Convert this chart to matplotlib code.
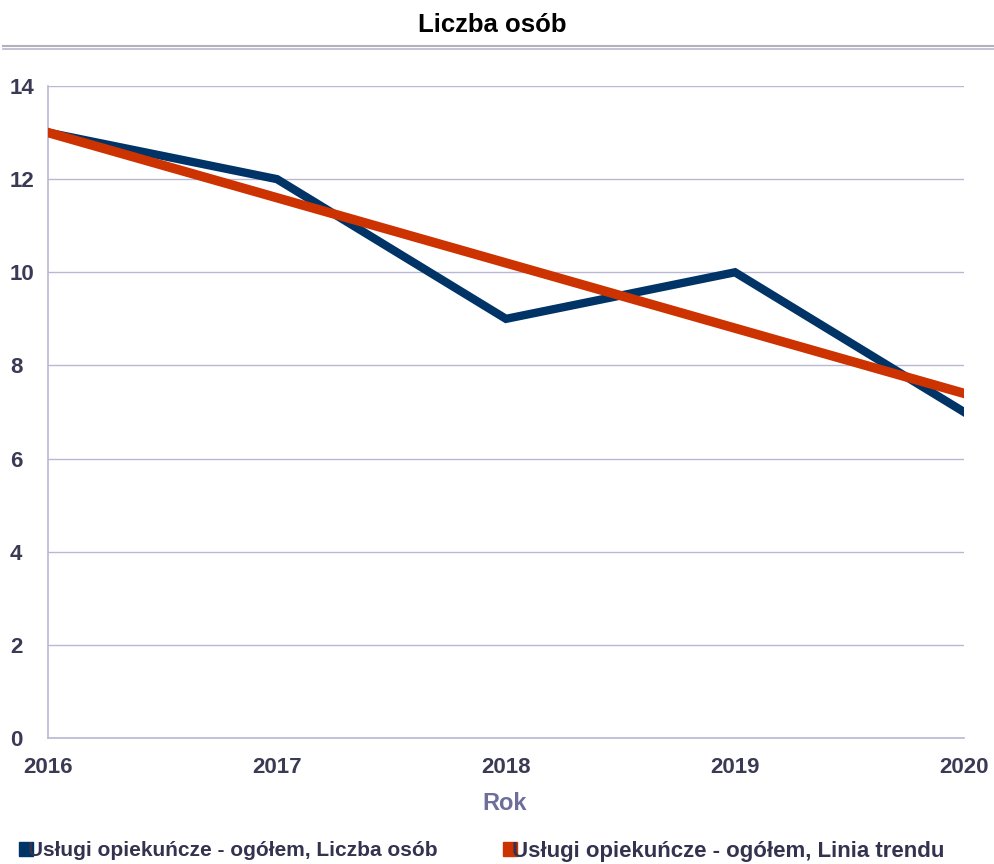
import matplotlib
matplotlib.use("Agg")
import matplotlib.pyplot as plt
from matplotlib.lines import Line2D
import matplotlib.transforms as mtransforms

years = ["2016", "2017", "2018", "2019", "2020"]
liczba_osob = [13, 12, 9, 10, 7]
linia_trendu = [13.0, 11.6, 10.2, 8.8, 7.4]
y_ticks = [0, 2, 4, 6, 8, 10, 12, 14]
series_labels = ["Usługi opiekuńcze - ogółem, Liczba osób",
                 "Usługi opiekuńcze - ogółem, Linia trendu"]
colors = ["#003366", "#CC3300"]

plt.rcParams['font.family'] = ['Liberation Sans', 'DejaVu Sans']

W, H = 994, 864
fig = plt.figure(figsize=(W / 100, H / 100), dpi=100)
ax = fig.add_axes([48 / W, (H - 738) / H, (964 - 48) / W, (738 - 86) / H])

x = list(range(len(years)))
ax.plot(x, liczba_osob, color=colors[0], lw=6, solid_joinstyle="miter", zorder=3,
        label=series_labels[0])
ax.plot(x, linia_trendu, color=colors[1], lw=6.8, zorder=4, label=series_labels[1])

ax.set_xlim(0, len(years) - 1)
ax.set_ylim(0, 14)
ax.set_yticks(y_ticks)
ax.set_xticks(x)
ax.set_xticklabels(years)
ax.grid(axis="y", color="#B8B8D4", lw=1)
ax.set_axisbelow(True)
for s in ["top", "right"]:
    ax.spines[s].set_visible(False)
for s in ["left", "bottom"]:
    ax.spines[s].set_color("#B8B8D4")
    ax.spines[s].set_linewidth(1.2)
ax.tick_params(length=0)
ax.tick_params(axis="y", pad=0)
tick_color = "#3A3A55"
for lab in ax.get_yticklabels():
    lab.set_fontsize(16)
    lab.set_fontweight("bold")
    lab.set_color(tick_color)
    lab.set_horizontalalignment("left")
    lab.set_transform(lab.get_transform() + mtransforms.ScaledTranslation(-38 / 100, 0, fig.dpi_scale_trans))
for lab in ax.get_xticklabels():
    lab.set_fontsize(16)
    lab.set_fontweight("bold")
    lab.set_color(tick_color)
ax.tick_params(axis="x", pad=14)

fig.text(505 / W, 1 - 803 / H, "Rok", ha="center", va="center", fontsize=17,
         fontweight="bold", color="#6E6E9A")
fig.text(492 / W, 1 - 25 / H, "Liczba osób", ha="center", va="center", fontsize=18.5,
         fontweight="bold", color="#000000")
fig.add_artist(Line2D([3 / W, 1], [1 - 46 / H, 1 - 46 / H], color="#B0B0C0", lw=1.5,
                      transform=fig.transFigure))
fig.add_artist(Line2D([3 / W, 1], [1 - 49 / H, 1 - 49 / H], color="#B8B8CC", lw=1.2,
                      transform=fig.transFigure))

anchors = [20 / W, 503 / W]
sizes = [15, 16]
for lbl, col, ax_x, fs in zip(series_labels, colors, anchors, sizes):
    h = Line2D([], [], marker="s", color=col, ls="none", markersize=10)
    fig.legend([h], [lbl], loc="center left", bbox_to_anchor=(ax_x, 1 - 851 / H),
               frameon=False, handletextpad=-0.2, handlelength=0.6, borderpad=0,
               borderaxespad=0, prop={"size": fs, "weight": "bold"},
               labelcolor="#33334F")

fig.savefig("out.png", dpi=100)
